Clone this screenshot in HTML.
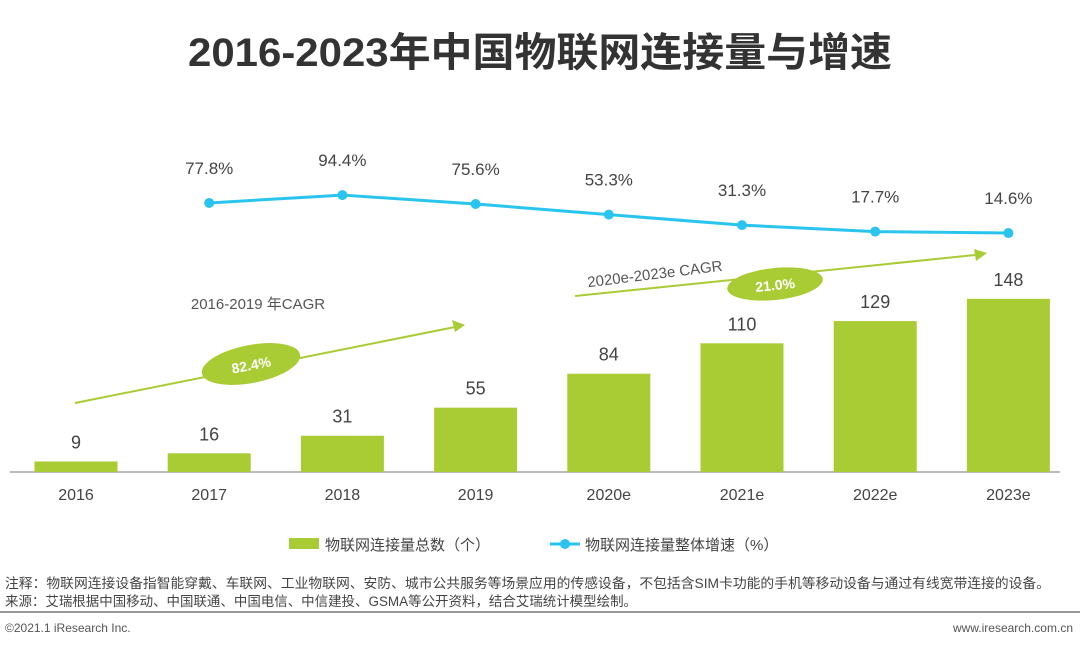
<!DOCTYPE html>
<html><head><meta charset="utf-8"><style>
body{margin:0;width:1080px;height:648px;background:#fff;overflow:hidden;font-family:"Liberation Sans","Noto Sans CJK SC",sans-serif}
svg{position:absolute;left:0;top:0}
</style></head><body>
<svg id="c" width="1080" height="648">
<text x="188" y="66" textLength="704" lengthAdjust="spacingAndGlyphs" font-size="40" font-weight="bold" fill="#333" font-family="Liberation Sans,Noto Sans CJK SC,sans-serif">2016-2023年中国物联网连接量与增速</text>
<line x1="10" y1="472" x2="1060" y2="472" stroke="#bbb" stroke-width="2"/>
<g id="bars"></g><g id="line"></g>
<g>
<line x1="75" y1="403" x2="455" y2="327" stroke="#a9cc35" stroke-width="2"/>
<polygon points="465,325 452,320 455,332" fill="#a9cc35"/>
<ellipse cx="251" cy="364" rx="50" ry="19" fill="#a9cc35" transform="rotate(-11 251 364)"/>
<text x="251" y="370" text-anchor="middle" font-size="14" font-weight="bold" fill="#fff" transform="rotate(-11 251 364)">82.4%</text>
<text x="258" y="309" text-anchor="middle" font-size="15" fill="#555">2016-2019 年CAGR</text>
</g>
<g>
<line x1="575" y1="296" x2="975" y2="255" stroke="#a9cc35" stroke-width="2"/>
<polygon points="987,253 974,249 976,261" fill="#a9cc35"/>
<ellipse cx="775" cy="284" rx="48" ry="16" fill="#a9cc35" transform="rotate(-6 775 284)"/>
<text x="775" y="290" text-anchor="middle" font-size="14" font-weight="bold" fill="#fff" transform="rotate(-6 775 284)">21.0%</text>
<text x="655" y="279" text-anchor="middle" font-size="15" fill="#555" transform="rotate(-7 655 275)">2020e-2023e CAGR</text>
</g>
<g>
<rect x="289" y="538" width="30" height="11" fill="#a9cc35"/>
<text x="325" y="550" font-size="15" fill="#444">物联网连接量总数（个）</text>
<line x1="550" y1="544" x2="580" y2="544" stroke="#29c5ef" stroke-width="3"/>
<circle cx="565" cy="544" r="5" fill="#29c5ef"/>
<text x="585" y="550" font-size="15" fill="#444">物联网连接量整体增速（%）</text>
</g>
<text x="5" y="588" textLength="1045" lengthAdjust="spacingAndGlyphs" font-size="13.5" fill="#444">注释：物联网连接设备指智能穿戴、车联网、工业物联网、安防、城市公共服务等场景应用的传感设备，不包括含SIM卡功能的手机等移动设备与通过有线宽带连接的设备。</text>
<text x="5" y="606" textLength="632" lengthAdjust="spacingAndGlyphs" font-size="13.5" fill="#444">来源：艾瑞根据中国移动、中国联通、中国电信、中信建投、GSMA等公开资料，结合艾瑞统计模型绘制。</text>
<line x1="0" y1="612" x2="1080" y2="612" stroke="#999" stroke-width="2"/>
<text x="5" y="632" font-size="12" fill="#555">©2021.1 iResearch Inc.</text>
<text x="1073" y="632" text-anchor="end" font-size="12" fill="#555">www.iresearch.com.cn</text>
</svg>
<script>
const categories=["2016","2017","2018","2019","2020e","2021e","2022e","2023e"];
const connections=[9,16,31,55,84,110,129,148];
const growth=[77.8,94.4,75.6,53.3,31.3,17.7,14.6];
const growthLabels=["77.8%","94.4%","75.6%","53.3%","31.3%","17.7%","14.6%"];
const NS="http://www.w3.org/2000/svg";
function xC(i){return 76+i*133.2;}
function yB(v){return 472-v*1.17;}
function yL(v){return 240-v*0.476;}
function mk(t,a,p){const e=document.createElementNS(NS,t);for(const k in a)e.setAttribute(k,a[k]);p.appendChild(e);return e;}
const bg=document.getElementById('bars'),lg=document.getElementById('line');
categories.forEach((c,i)=>{
 const r=mk('rect',{x:xC(i)-41.5,y:yB(connections[i]),width:83,height:472-yB(connections[i]),fill:'#a9cc35'},bg);
 
 
 const t=mk('text',{x:xC(i),y:yB(connections[i])-13,'text-anchor':'middle','font-size':18,fill:'#444'},bg);t.textContent=connections[i];
 
 
 const l=mk('text',{x:xC(i),y:500,'text-anchor':'middle','font-size':16,fill:'#444'},bg);l.textContent=c;
 
 
});
const pts=growth.map((v,i)=>[xC(i+1),yL(v)]);
const pl=mk('polyline',{points:pts.map(p=>p.join(',')).join(' '),fill:'none',stroke:'#29c5ef','stroke-width':3},lg);


pts.forEach((p,i)=>{
 const c=mk('circle',{cx:p[0],cy:p[1],r:5,fill:'#29c5ef'},lg);
 
 
 const t=mk('text',{x:p[0],y:p[1]-29,'text-anchor':'middle','font-size':17,fill:'#444'},lg);t.textContent=growthLabels[i];
 
 
});
</script>
</body></html>
